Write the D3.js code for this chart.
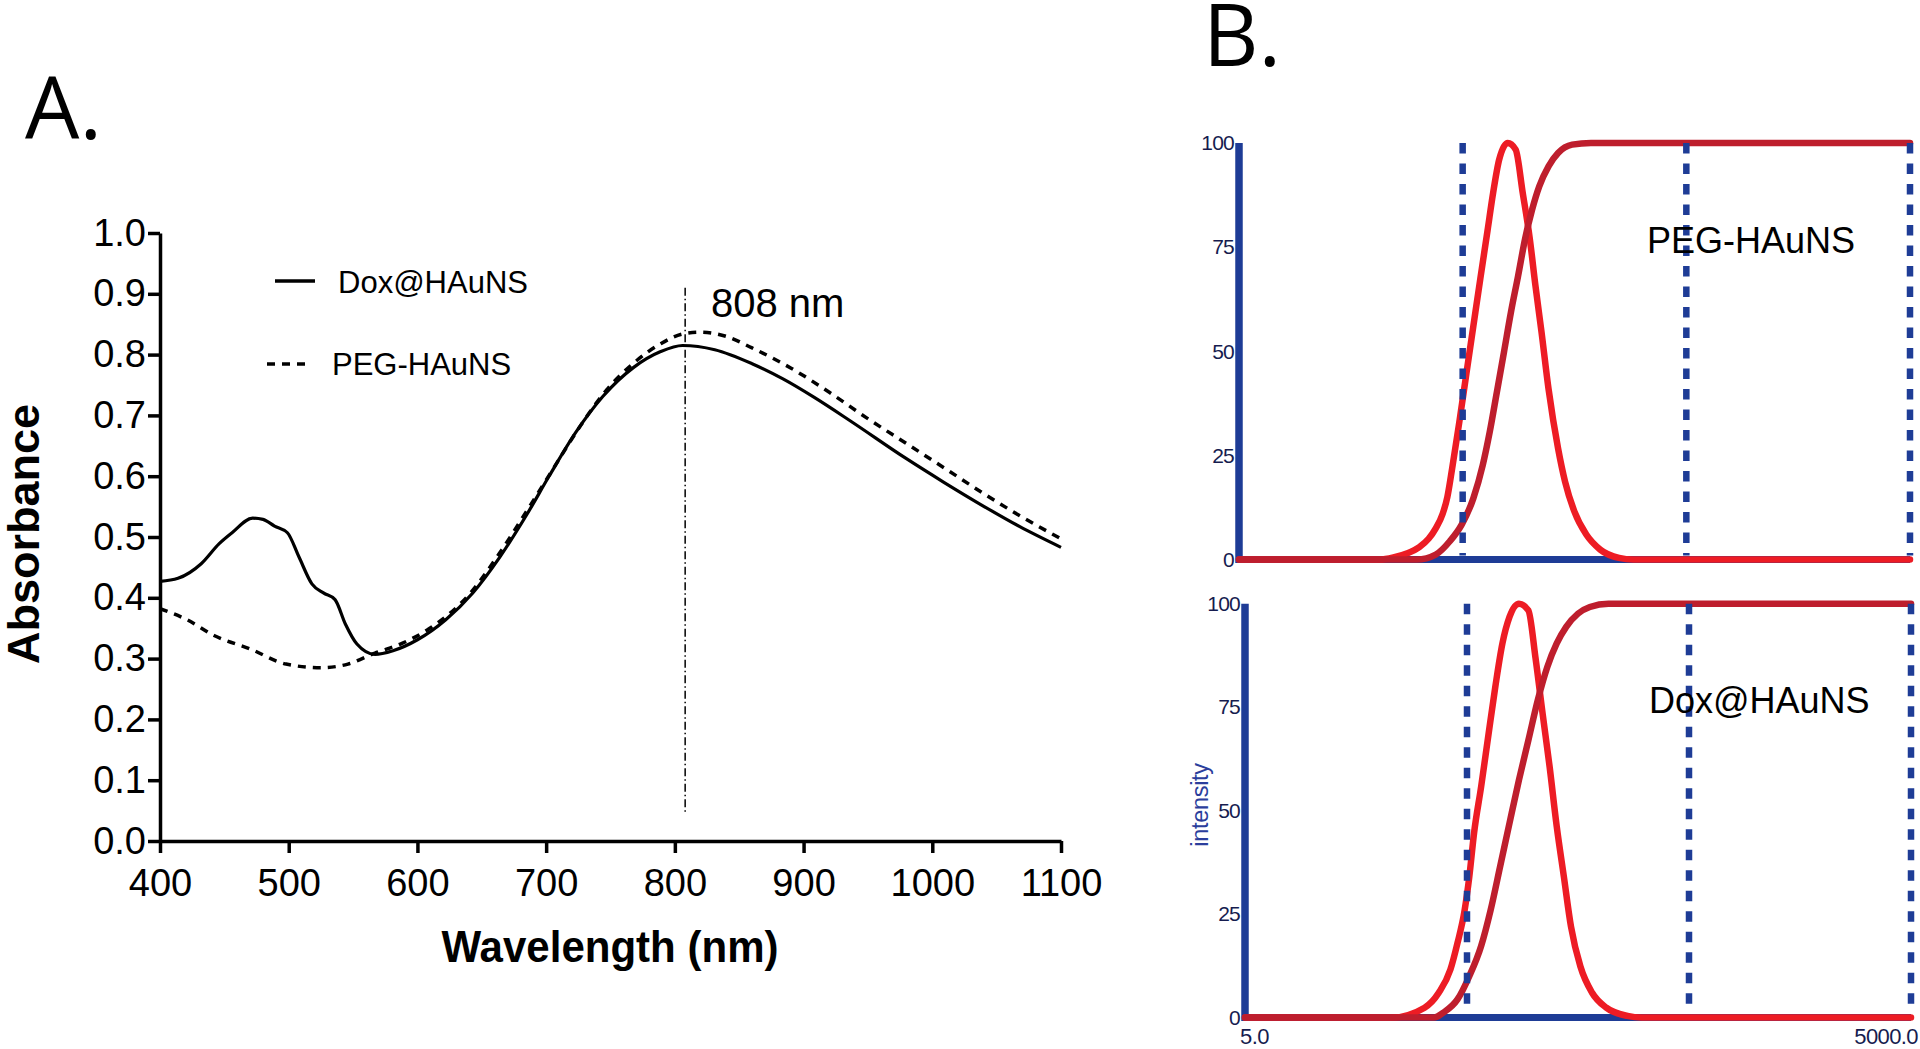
<!DOCTYPE html>
<html><head><meta charset="utf-8">
<script src="https://cdn.jsdelivr.net/npm/d3@7"></script>
<style>
html,body{margin:0;padding:0;background:#fff;}
svg{display:block;}
text{font-family:"Liberation Sans",Arial,Helvetica,sans-serif;}
</style></head>
<body>
<script>
// ---------- Panel A data: absorbance spectra ----------
const doxWavelength = [400,414,432,446,456,472,480,489,499,508,518,527,536,544,553,567,581,600,622,643,664,685,702,723,744,768,789,806,831,860,884,908,937,979,1009,1038,1068,1100];
const doxAbsorbance = [0.427,0.432,0.456,0.489,0.507,0.531,0.529,0.518,0.507,0.467,0.423,0.408,0.397,0.357,0.324,0.307,0.313,0.331,0.364,0.408,0.467,0.537,0.599,0.672,0.731,0.779,0.805,0.815,0.808,0.785,0.760,0.730,0.690,0.630,0.590,0.553,0.517,0.483];
const pegWavelength = [400,421,442,470,498,525,546,567,588,609,640,664,685,706,727,747,768,789,806,819,840,860,890,920,949,979,1009,1038,1068,1100];
const pegAbsorbance = [0.382,0.364,0.338,0.316,0.291,0.285,0.291,0.309,0.325,0.349,0.405,0.474,0.543,0.614,0.684,0.742,0.786,0.818,0.834,0.837,0.830,0.811,0.778,0.738,0.696,0.655,0.614,0.574,0.535,0.497];
const absYTicks = [0,0.1,0.2,0.3,0.4,0.5,0.6,0.7,0.8,0.9,1.0];
const absXTicks = [400,500,600,700,800,900,1000,1100];
const markerWavelength = 808;
const seriesNamesA = ["Dox@HAuNS","PEG-HAuNS"];

// ---------- Panel B data: size distributions (log x) ----------
const pegSizeDist = [5,21.2,24.5,28.3,32,35.2,37.9,40.7,42.7,44.9,48.3,51.9,55.8,60,64.6,68.4,72.8,79.5,86.3,92.8,99.8,105.8,112.6,121,133.5,143.5,158,178.5,206,250,290,5000];
const pegIntensity = [0,0,0.5,1.5,3,5,7.5,11,15,22,33,44.5,56,67.5,79,88,96,100,98.4,88,77,65.7,54.6,41,26.7,18.7,11.5,6,2.4,0.4,0,0];
const pegSizeCum = [5,31.2,37.9,43.8,49.5,55.8,61.5,66.1,71.1,76.5,82.2,88.4,95,102.2,110,121,133.5,154.3,187.3,5000];
const pegCumulative = [0,0,1.2,4.4,8.4,14.7,22.7,30.7,40.2,49.8,59.4,68,76.9,84,89.6,94.4,97.6,99.6,100,100];
const doxSizeDist = [5,22.8,32.2,37.3,42.1,45.3,48.8,51.2,53.8,57.9,62.3,67.1,72.2,77.7,85.7,94.5,101.7,109.5,117.8,126.8,136.6,147,162,183,212,264,306,5000];
const doxIntensity = [0,0,2.4,6,11.6,18,26,34,44.6,55.8,67.9,80,90.4,96.8,100,98.4,87,73.5,60.6,46.2,34,22,12.4,6,2.4,0.4,0,0];
const doxSizeCum = [5,35.5,39.1,45.3,51.2,57.9,63.9,70.5,77.7,85.7,94.5,104.2,115,126.8,139.9,158.1,178.8,217,5000];
const doxCumulative = [0,0,1.2,4.4,10,17.3,26,36.5,47,57.4,67,76.7,84.7,90.4,94.4,97.6,99.2,100,100];
const sizeMarkers = [50,500,5000];
const intensityTicks = [0,25,50,75,100];
const sizeEndLabels = ["5.0","5000.0"];

const zip = (xs, ys) => xs.map((x,i)=>[x, ys[i]]);

const svg = d3.select("body").append("svg").attr("width",1920).attr("height",1049);

// ================= Panel A =================
const xA = d3.scaleLinear().domain([400,1100]).range([160,1061]);
const yA = d3.scaleLinear().domain([0,1]).range([841,233]);
const gA = svg.append("g");

gA.append("text").attr("x",25).attr("y",139).text("A.")
  .style("font-family","'Open Sans',sans-serif").style("font-size","86px");

const yAxisA = gA.append("g").attr("transform","translate(160,0)")
  .call(d3.axisLeft(yA).tickValues(absYTicks).tickFormat(d3.format(".1f")).tickSize(12).tickSizeOuter(0).tickPadding(2));
const xAxisA = gA.append("g").attr("transform","translate(0,841)")
  .call(d3.axisBottom(xA).tickValues(absXTicks).tickFormat(d3.format("d")).tickSize(12).tickSizeOuter(0).tickPadding(16));
[yAxisA,xAxisA].forEach(a=>{
  a.selectAll("path.domain").attr("stroke","#000").attr("stroke-width",3.5);
  a.selectAll(".tick line").attr("stroke","#000").attr("stroke-width",3.5);
  a.selectAll(".tick text").attr("fill","#000").style("font-size","38px").style("font-family","'Liberation Sans',Arial,sans-serif");
});

gA.append("text").attr("transform","translate(39,534) rotate(-90)").attr("text-anchor","middle")
  .style("font-size","45px").style("font-weight","bold").text("Absorbance");
gA.append("text").attr("x",610).attr("y",962).attr("text-anchor","middle")
  .attr("textLength",337).attr("lengthAdjust","spacingAndGlyphs")
  .style("font-size","44px").style("font-weight","bold").text("Wavelength (nm)");

// 808 marker
gA.append("line").attr("x1",xA(markerWavelength)).attr("x2",xA(markerWavelength))
  .attr("y1",yA(0.91)).attr("y2",yA(0.044))
  .attr("stroke","#000").attr("stroke-width",1.5).attr("stroke-dasharray","8,3,1.5,3");
gA.append("text").attr("x",711).attr("y",317).style("font-size","40px").text(markerWavelength+" nm");

const lineA = d3.line().x(d=>xA(d[0])).y(d=>yA(d[1])).curve(d3.curveMonotoneX);
gA.append("path").datum(zip(pegWavelength,pegAbsorbance)).attr("d",lineA)
  .attr("fill","none").attr("stroke","#000").attr("stroke-width",3.5).attr("stroke-dasharray","8,7");
gA.append("path").datum(zip(doxWavelength,doxAbsorbance)).attr("d",lineA)
  .attr("fill","none").attr("stroke","#000").attr("stroke-width",3.2);

// legend
gA.append("line").attr("x1",275).attr("x2",315).attr("y1",281).attr("y2",281).attr("stroke","#000").attr("stroke-width",3.5);
gA.append("text").attr("x",338).attr("y",293).style("font-size","31px").text(seriesNamesA[0]);
gA.append("line").attr("x1",267).attr("x2",309).attr("y1",364).attr("y2",364).attr("stroke","#000").attr("stroke-width",3.5).attr("stroke-dasharray","8,7");
gA.append("text").attr("x",332).attr("y",375).style("font-size","31px").text(seriesNamesA[1]);

// ================= Panel B =================
svg.append("text").attr("x",1203).attr("y",66).text("B.")
  .style("font-family","'Open Sans',sans-serif").style("font-size","86px");

const BLUE = "#1e3c96", BRIGHT = "#ed1c24", DARK = "#be1e2d", NAVY="#161c4f";

function panel(x0, x1, yTop, yBot, distX, distY, cumX, cumY, label, labelX, labelY, showX){
  const x = d3.scaleLog().domain([5,5000]).range([x0,x1]);
  const y = d3.scaleLinear().domain([0,100]).range([yBot,yTop]);
  const g = svg.append("g");
  g.append("line").attr("x1",x(5)).attr("x2",x(5000)).attr("y1",y(0)).attr("y2",y(0)).attr("stroke",BLUE).attr("stroke-width",7);
  g.append("line").attr("x1",x(5)).attr("x2",x(5)).attr("y1",y(0)+3.5).attr("y2",y(100)).attr("stroke",BLUE).attr("stroke-width",7.5);
  const ya = g.append("g").attr("transform",`translate(${x(5)-4},0)`)
    .call(d3.axisLeft(y).tickValues(intensityTicks).tickSize(0).tickPadding(1).tickFormat(d3.format("d")));
  ya.select("path.domain").remove();
  ya.selectAll(".tick text").attr("fill",NAVY).style("font-size","21px").style("letter-spacing","-0.8px")
    .style("font-family","'Liberation Sans',Arial,sans-serif");
  const line = d3.line().x(d=>x(d[0])).y(d=>y(d[1])).curve(d3.curveMonotoneX);
  g.append("path").datum(zip(distX,distY)).attr("d",line).attr("fill","none")
    .attr("stroke",BRIGHT).attr("stroke-width",6.5).attr("stroke-linejoin","round").attr("stroke-linecap","round");
  g.append("path").datum(zip(cumX,cumY)).attr("d",line).attr("fill","none")
    .attr("stroke",DARK).attr("stroke-width",6.5).attr("stroke-linejoin","round").attr("stroke-linecap","round");
  sizeMarkers.forEach(m=>{
    g.append("line").attr("x1",x(m)).attr("x2",x(m)).attr("y1",y(100)).attr("y2",y(0)-4)
      .attr("stroke",BLUE).attr("stroke-width",6.5).attr("stroke-dasharray","10.5,10");
  });
  g.append("text").attr("x",labelX).attr("y",labelY).style("font-size","36px").attr("fill","#000").text(label);
  if(showX){
    g.append("text").attr("x",x(5)-5).attr("y",1044).attr("fill",NAVY).style("font-size","22px").style("letter-spacing","-0.6px").text(sizeEndLabels[0]);
    g.append("text").attr("x",x(5000)+7).attr("y",1044).attr("text-anchor","end").attr("fill",NAVY).style("font-size","22px").style("letter-spacing","-0.6px").text(sizeEndLabels[1]);
  }
  return {x,y};
}
panel(1239,1910,143,559.6,pegSizeDist,pegIntensity,pegSizeCum,pegCumulative,"PEG-HAuNS",1647,253,false);
panel(1245,1911,603.7,1017.6,doxSizeDist,doxIntensity,doxSizeCum,doxCumulative,"Dox@HAuNS",1649,713,true);

svg.append("text").attr("transform","translate(1208,805) rotate(-90)").attr("text-anchor","middle")
  .attr("fill","#2b3e9c").style("font-size","23.5px").style("letter-spacing","-0.3px").text("intensity");
</script>
</body></html>
